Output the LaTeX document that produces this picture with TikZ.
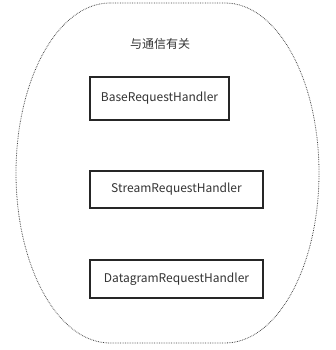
\documentclass[tikz,border=0pt]{standalone}
\usepackage{fontspec}
\setmainfont{Noto Sans CJK SC}
\begin{document}
\begin{tikzpicture}[x=1pt,y=1pt,
    handler/.style={draw=black!85, line width=1.1pt, inner sep=0pt, minimum height=38pt, minimum width=173pt, text=black!80, font=\fontsize{12}{14}\selectfont},
    outline/.style={draw=black!75, line width=0.8pt, dash pattern=on 0.7pt off 1pt}]
        \useasboundingbox (0,0) rectangle (335,350);
        \draw[outline] (110,347) -- (225,347) arc[start angle=90, end angle=-90, x radius=94pt, y radius=170pt]
            -- (110,7) arc[start angle=-90, end angle=-270, x radius=94pt, y radius=170pt] -- cycle;
        \node[text=black!80, font=\fontsize{12}{14}\selectfont] (title) at (160,306) {与通信有关};
        \node[handler, minimum width=139pt, minimum height=43pt] (base) at (159.5,251.5) {BaseRequestHandler};
        \node[handler, minimum height=37pt] (stream) at (176.5,160.5) {StreamRequestHandler};
        \node[handler] (datagram) at (176.5,71) {DatagramRequestHandler};
    \end{tikzpicture}
\end{document}
